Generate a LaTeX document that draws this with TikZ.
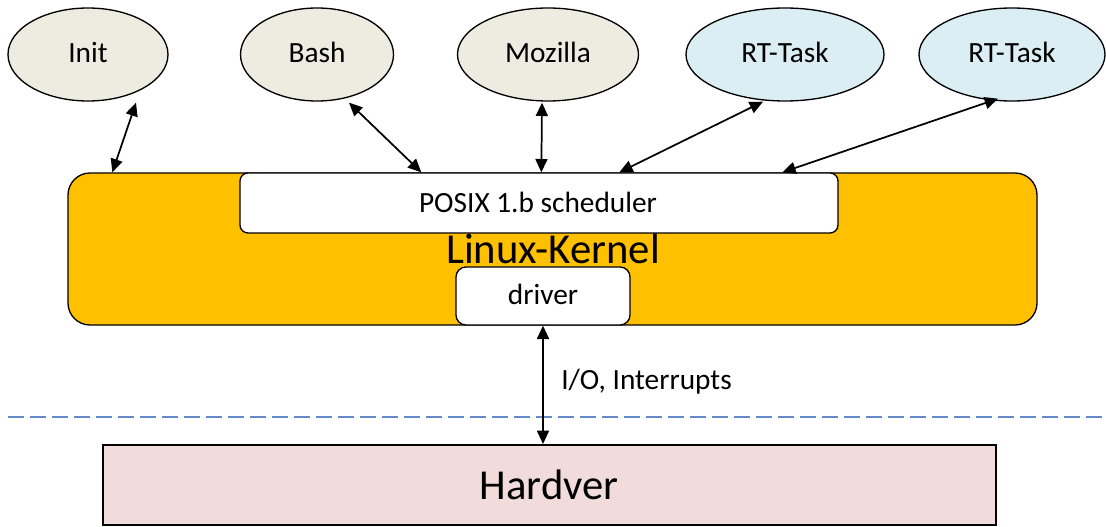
\documentclass[tikz,border=0pt]{standalone}
\usepackage{fontspec}
\setmainfont{Carlito}
\usetikzlibrary{shapes.geometric,arrows.meta,calc}
\definecolor{procfill}{HTML}{EEECE1}
\definecolor{rtfill}{HTML}{DAEEF3}
\definecolor{kernfill}{HTML}{FFC000}
\definecolor{hwfill}{HTML}{F2DCDB}
\definecolor{sepline}{RGB}{100,140,200}
\tikzset{
  proc/.style={ellipse,draw=black,line width=1pt,fill=procfill,inner sep=0pt,
    minimum height=69.75pt,text depth=3pt,font=\fontsize{22}{26}\selectfont},
  rtproc/.style={proc,fill=rtfill},
  whitebox/.style={rectangle,draw=black,line width=1pt,fill=white,inner sep=0pt},
  biarrow/.style={line width=1.3pt,{Triangle[length=10pt,width=9pt]}-{Triangle[length=10pt,width=9pt]}},
  smalltext/.style={font=\fontsize{22}{26}\selectfont,inner sep=0pt},
  bigtext/.style={font=\fontsize{32}{36}\selectfont,inner sep=0pt},
}
\begin{document}
\begin{tikzpicture}[x=0.75pt,y=-0.75pt]
\useasboundingbox (0,0) rectangle (1106,527);
% processes
\node[proc,minimum width=120pt] (init) at (88,54.5) {Init};
\node[proc,minimum width=114.75pt] (bash) at (317,54.5) {Bash};
\node[proc,minimum width=135.75pt] (moz) at (548,54.5) {Mozilla};
\node[rtproc,minimum width=148.5pt] (rt1) at (785,54.5) {RT-Task};
\node[rtproc,minimum width=139.5pt] (rt2) at (1012,54.5) {RT-Task};
% kernel
\node[rectangle,draw=black,line width=1pt,fill=kernfill,rounded corners=16.5pt,
  minimum width=726.75pt,minimum height=114pt,inner sep=0pt] (kernel) at (552.5,249) {};
\node[whitebox,rounded corners=6pt,minimum width=448.5pt,minimum height=45pt] (posix) at (539,203) {};
\node[smalltext,anchor=base] (posixtext) at (538,213) {POSIX 1.b scheduler};
\node[bigtext,anchor=base] (ktext) at (553,264) {Linux-Kernel};
\node[whitebox,rounded corners=7.5pt,minimum width=130.5pt,minimum height=43.5pt] (driver) at (543,296) {};
\node[smalltext,anchor=base] (drivertext) at (543,305) {driver};
% separator
\coordinate (sepL) at (8,417);
\coordinate (sepR) at (1106,417);
\draw[sepline,line width=1.5pt,dash pattern=on 12pt off 4.5pt] (sepL) -- (sepR);
% hardware
\node[rectangle,draw=black,line width=1.5pt,fill=hwfill,minimum width=669.75pt,
  minimum height=60pt,inner sep=0pt] (hw) at (549.5,485) {};
\node[bigtext,anchor=base] (hwtext) at (549,499) {Hardver};
% arrows
\coordinate (iT) at ($(init.south)+(48,1)$);
\coordinate (iB) at ($(kernel.north west)+(45,0)$);
\coordinate (bT) at ($(bash.south)+(32,1)$);
\coordinate (bB) at ($(posix.north west)+(182,0)$);
\coordinate (mT) at ($(moz.south)+(-6,1)$);
\coordinate (mB) at ($(posix.north west)+(302,0)$);
\coordinate (r1T) at ($(rt1.south)+(-22,0)$);
\coordinate (r1B) at ($(posix.north west)+(380,0)$);
\coordinate (r2T) at ($(rt2.south)+(-14,-3)$);
\coordinate (r2B) at ($(posix.north west)+(543,0)$);
\draw[biarrow] (iB) -- (iT);
\draw[biarrow] (bB) -- (bT);
\draw[biarrow] (mB) -- (mT);
\draw[biarrow] (r1B) -- (r1T);
\draw[biarrow] (r2B) -- (r2T);
\draw[biarrow] (driver.south) -- (driver.south |- hw.north);
\node[smalltext,anchor=base west] (io) at (561,389) {I/O, Interrupts};
\end{tikzpicture}
\end{document}
